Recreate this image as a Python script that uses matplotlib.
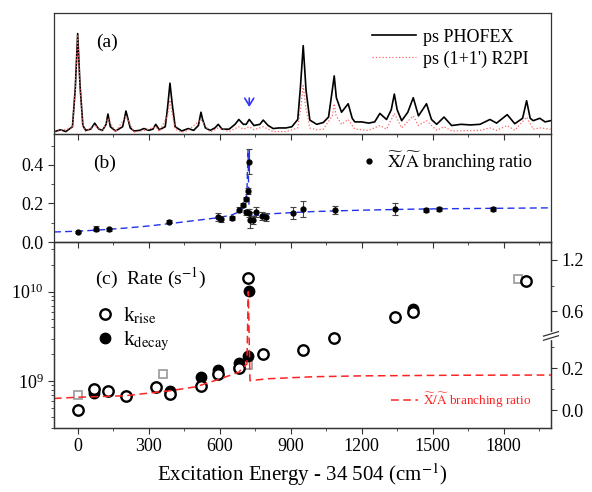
import numpy as np
import matplotlib
matplotlib.use('Agg')
import matplotlib.pyplot as plt
from matplotlib.ticker import FixedLocator, FormatStrFormatter, LogLocator, NullFormatter

plt.rcParams['font.family'] = ['Liberation Serif', 'DejaVu Serif']
plt.rcParams['mathtext.fontset'] = 'stix'
plt.rcParams['font.size'] = 13

# (a) spectra - relative intensity, peaks/valleys
phofex_x = [-98, -72, -50, -22, -10, 0, 10, 22, 34, 55, 62, 72, 82, 90, 105, 120, 128, 138, 160, 190, 198,
            204, 212, 222, 238, 262, 280, 300, 318, 330, 345, 370, 380, 390, 400, 412, 440, 467, 490, 510,
            516, 521, 528, 540, 560, 580, 594, 610, 640, 665, 681, 700, 712, 725, 745, 770, 784, 805, 826,
            850, 880, 905, 930, 941, 953, 965, 981, 1010, 1038, 1060, 1075, 1084, 1093, 1115, 1143, 1160,
            1171, 1200, 1230, 1255, 1277, 1305, 1325, 1338, 1350, 1369, 1395, 1418, 1440, 1474, 1495,
            1517, 1548, 1580, 1620, 1660, 1700, 1742, 1770, 1815, 1847, 1880, 1897, 1912, 1925, 1953,
            1975, 1998]
phofex_y = [0.02, 0.035, 0.02, 0.06, 0.38, 0.83, 0.40, 0.07, 0.03, 0.04, 0.06, 0.09, 0.06, 0.04, 0.03,
            0.08, 0.165, 0.06, 0.025, 0.06, 0.13, 0.19, 0.13, 0.05, 0.025, 0.03, 0.045, 0.03, 0.04, 0.08,
            0.035, 0.06, 0.22, 0.42, 0.24, 0.06, 0.025, 0.045, 0.03, 0.07, 0.13, 0.18, 0.12, 0.05, 0.03,
            0.05, 0.08, 0.04, 0.04, 0.08, 0.12, 0.08, 0.08, 0.12, 0.07, 0.08, 0.115, 0.07, 0.045, 0.05,
            0.05, 0.06, 0.12, 0.38, 0.73, 0.36, 0.115, 0.08, 0.095, 0.14, 0.35, 0.48, 0.30, 0.18, 0.25,
            0.13, 0.10, 0.10, 0.09, 0.10, 0.17, 0.12, 0.20, 0.33, 0.20, 0.11, 0.18, 0.30, 0.15, 0.25,
            0.12, 0.08, 0.14, 0.07, 0.08, 0.075, 0.08, 0.12, 0.09, 0.16, 0.085, 0.13, 0.275, 0.13, 0.11,
            0.13, 0.10, 0.11]
r2pi_x = [-98, -72, -22, -10, 0, 10, 22, 34, 72, 105, 128, 160, 204, 238, 280, 330, 345, 380, 390, 400,
          412, 440, 467, 521, 560, 594, 640, 681, 700, 725, 745, 784, 826, 880, 930, 943, 953, 964, 981,
          1010, 1038, 1076, 1084, 1092, 1115, 1143, 1171, 1230, 1277, 1305, 1338, 1369, 1418, 1440, 1474,
          1517, 1548, 1580, 1700, 1742, 1770, 1815, 1847, 1897, 1925, 1953, 1998]
r2pi_y = [0.015, 0.03, 0.05, 0.36, 0.82, 0.38, 0.06, 0.02, 0.07, 0.02, 0.13, 0.015, 0.15, 0.015, 0.03,
          0.06, 0.02, 0.15, 0.28, 0.16, 0.04, 0.015, 0.03, 0.12, 0.015, 0.05, 0.02, 0.06, 0.04, 0.06,
          0.035, 0.06, 0.02, 0.02, 0.05, 0.22, 0.40, 0.22, 0.05, 0.035, 0.04, 0.15, 0.25, 0.15, 0.08,
          0.12, 0.04, 0.03, 0.07, 0.04, 0.17, 0.05, 0.15, 0.07, 0.11, 0.03, 0.06, 0.025, 0.03, 0.05,
          0.03, 0.07, 0.03, 0.14, 0.04, 0.05, 0.04]
arrow_x = 725

# (b) X/A branching ratio
br_x = [0, 76, 134, 386, 594, 604, 653, 683, 700, 711, 713, 718, 724, 726, 728, 742, 755, 777, 795,
        908, 952, 1087, 1341, 1471, 1526, 1756]
br_y = [0.054, 0.068, 0.066, 0.106, 0.129, 0.118, 0.124, 0.167, 0.19, 0.223, 0.153, 0.265, 0.416, 0.15,
        0.115, 0.115, 0.155, 0.134, 0.13, 0.15, 0.172, 0.167, 0.171, 0.167, 0.172, 0.171]
br_err = [0.005, 0.013, 0.008, 0.008, 0.02, 0.015, 0.012, 0.012, 0.01, 0.01, 0.015, 0.015, 0.065, 0.02,
          0.04, 0.02, 0.025, 0.02, 0.02, 0.03, 0.04, 0.02, 0.033, 0.01, 0.01, 0.01]
fit_x = [-100, 0, 100, 200, 300, 400, 500, 600, 650, 690, 705, 715, 720, 722, 725, 760, 800, 900, 1000,
         1200, 1400, 1600, 1800, 2000]
fit_y = [0.052, 0.056, 0.063, 0.072, 0.083, 0.097, 0.112, 0.127, 0.14, 0.16, 0.19, 0.25, 0.48, 0.30,
         0.13, 0.138, 0.145, 0.152, 0.158, 0.165, 0.17, 0.173, 0.175, 0.177]

# (c) rates (s^-1)
rise_x = [0, 70, 127, 203, 330, 390, 521, 591, 681, 721, 781, 953, 1084, 1340, 1418, 1894]
rise_k = [4.73e8, 8.28e8, 7.8e8, 6.84e8, 8.63e8, 7.28e8, 8.85e8, 1.2e9, 1.41e9, 1.42e10, 1.99e9,
          2.24e9, 3.08e9, 5.25e9, 5.97e9, 1.32e10]
decay_x = [70, 390, 521, 591, 681, 721, 724, 1418]
decay_k = [7.46e8, 7.8e8, 1.12e9, 1.35e9, 1.6e9, 1.92e9, 1.01e10, 6.5e9]
sq_x = [0, 362, 721, 1859]
sq_k = [6.97e8, 1.2e9, 1.51e9, 1.38e10]
red_x = [-100, 0, 200, 390, 500, 600, 680, 707, 715, 721, 728, 800, 1000, 1200, 1600, 2000]
red_v = [0.056, 0.062, 0.069, 0.093, 0.112, 0.149, 0.181, 0.213, 0.22, 0.83, 0.141, 0.15, 0.16, 0.164,
         0.167, 0.168]

fig = plt.figure(figsize=(5.92, 4.92), dpi=100)
gs = fig.add_gridspec(3, 1, height_ratios=[121, 108, 186], hspace=0,
                      left=54 / 592, right=551 / 592, top=1 - 13 / 492, bottom=1 - 428 / 492)
ax1 = fig.add_subplot(gs[0])
ax2 = fig.add_subplot(gs[1], sharex=ax1)
ax3 = fig.add_subplot(gs[2], sharex=ax1)

spine_c = '#333333'
for ax in (ax1, ax2, ax3):
    ax.set_facecolor('none')
    for s in ax.spines.values():
        s.set_color(spine_c)
        s.set_linewidth(0.9)
    ax.tick_params(which='both', direction='out', color=spine_c, top=False, right=False)
    ax.tick_params(which='major', length=4)
    ax.tick_params(which='minor', length=2.5)
    ax.xaxis.set_major_locator(FixedLocator(np.arange(0, 2001, 300)))
    ax.xaxis.set_minor_locator(FixedLocator(np.arange(150, 2001, 300)))
ax1.set_xlim(-100, 2000)

# panel (a)
ax1.plot(phofex_x, phofex_y, color='black', lw=1.2, label='ps PHOFEX')
ax1.plot(r2pi_x, r2pi_y, color='#ff6666', lw=0.9, ls=':', label="ps (1+1') R2PI")
ax1.set_ylim(0, 1)
ax1.set_yticks([])
ax1.tick_params(labelbottom=False)
ax1.annotate('', xy=(arrow_x, 0.2), xytext=(arrow_x, 0.32),
             arrowprops=dict(arrowstyle='->,head_length=0.4,head_width=0.25', color='#3333ff', lw=1.2))
ax1.text(0.085, 0.76, '(a)', transform=ax1.transAxes, va='center', ha='left', fontsize=14)
ax1.legend(loc='upper right', bbox_to_anchor=(0.955, 0.87), frameon=False, fontsize=13,
           handlelength=2.4, borderpad=0, borderaxespad=0, labelspacing=0.25, handletextpad=0.4)

# panel (b)
ax2.plot(fit_x, fit_y, color='#2233ee', ls=(0, (5, 3)), lw=1.0)
ax2.errorbar(br_x, br_y, yerr=br_err, fmt='o', ms=3.5, color='black', ecolor='#444444',
             elinewidth=0.8, capsize=2.5, capthick=0.8)
hb, = ax2.plot([], [], 'o', ms=3.5, color='black', ls='none',
               label=r'$\widetilde{\mathrm{X}}/\widetilde{\mathrm{A}}$ branching ratio')
ax2.set_ylim(0, 0.56)
ax2.set_yticks([0.0, 0.2, 0.4])
ax2.yaxis.set_minor_locator(FixedLocator([0.1, 0.3, 0.5]))
ax2.yaxis.set_major_formatter(FormatStrFormatter('%.1f'))
ax2.tick_params(labelbottom=False)
ax2.text(0.078, 0.73, '(b)', transform=ax2.transAxes, va='center', ha='left', fontsize=14)
ax2.legend(handles=[hb], loc='upper right', bbox_to_anchor=(0.965, 0.855), frameon=False, fontsize=13,
           handlelength=0.8, borderpad=0, borderaxespad=0, handletextpad=0.6)

# panel (c)
ax3.set_yscale('log')
ax3.plot(sq_x, sq_k, 's', ms=6, mfc='none', mec='#999999', mew=1.2, ls='none')
hd, = ax3.plot(decay_x, decay_k, 'o', ms=7.5, color='black', ls='none', label=r'k$_{\mathrm{decay}}$')
hr, = ax3.plot(rise_x, rise_k, 'o', ms=7.5, mfc='white', mec='black', mew=1.7, ls='none',
               label=r'k$_{\mathrm{rise}}$')
ax3.set_ylim(3.0e8, 3.6e10)
ax3.yaxis.set_major_locator(LogLocator(base=10, numticks=10))
ax3.yaxis.set_minor_locator(LogLocator(base=10, subs=np.arange(2, 10), numticks=10))
ax3.yaxis.set_minor_formatter(NullFormatter())
ax3.text(0.083, 0.805, r'(c)  Rate (s$^{-1}$)', transform=ax3.transAxes, va='center', ha='left', fontsize=14)
ax3.legend([hr, hd], [hr.get_label(), hd.get_label()], loc='upper left', bbox_to_anchor=(0.085, 0.66),
           frameon=False, fontsize=15, handlelength=0.8, borderpad=0, borderaxespad=0,
           labelspacing=0.2, handletextpad=0.5)
ax3.set_xlabel('Excitation Energy - 34 504 (cm$^{-1}$)', fontsize=15, labelpad=4)


def fwd(v):
    v = np.asarray(v, dtype=float)
    return np.where(v <= 0.385, 2.447 * v, 0.556 + v)


def inv(u):
    u = np.asarray(u, dtype=float)
    return np.where(u <= 0.942, u / 2.447, u - 0.556)


axr = ax3.twinx()
axr.set_yscale('function', functions=(fwd, inv))
axr.plot(red_x, red_v, color='#ff2222', ls=(0, (5, 3)), lw=1.1,
         label=r'$\widetilde{\mathrm{X}}/\widetilde{\mathrm{A}}$ branching ratio')
axr.set_ylim(-0.085, 1.41)
axr.yaxis.set_major_locator(FixedLocator([0.0, 0.2, 0.6, 1.2]))
axr.yaxis.set_minor_locator(FixedLocator([0.1, 0.3, 0.9]))
axr.yaxis.set_major_formatter(FormatStrFormatter('%.1f'))
axr.yaxis.set_minor_formatter(NullFormatter())
axr.tick_params(which='both', direction='out', color=spine_c)
axr.tick_params(which='major', length=4)
axr.tick_params(which='minor', length=2.5)
for s in axr.spines.values():
    s.set_color(spine_c)
    s.set_linewidth(0.9)
axr.legend(loc='center right', bbox_to_anchor=(0.96, 0.15), frameon=False, fontsize=9.5,
           handlelength=2.0, borderpad=0, borderaxespad=0, handletextpad=0.4, labelcolor='#ff2222')

# axis break mark on the right spine
yb = 0.495
axr.plot([1.0, 1.0], [yb - 0.012, yb + 0.012], transform=axr.transAxes, color='white', lw=3,
         clip_on=False, zorder=5)
for dy in (-0.011, 0.011):
    axr.plot([0.985, 1.015], [yb + dy - 0.012, yb + dy + 0.012], transform=axr.transAxes,
             color=spine_c, lw=0.9, clip_on=False, zorder=6)

fig.savefig('out.png', dpi=100)
